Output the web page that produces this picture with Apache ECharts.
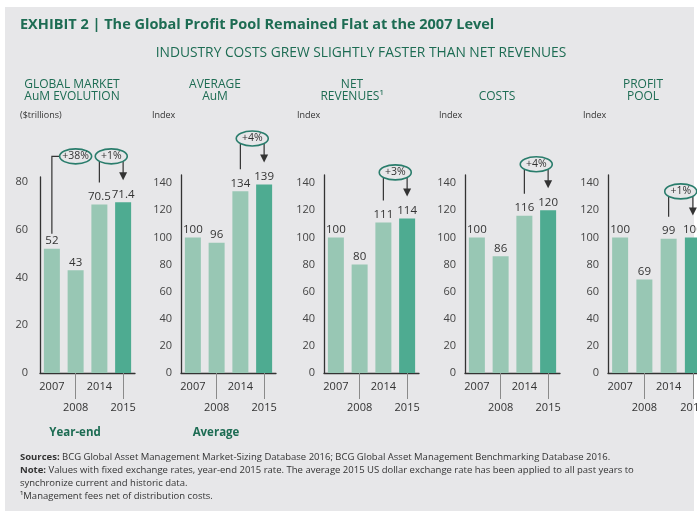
<!DOCTYPE html>
<html>
<head>
<meta charset="utf-8">
<script src="https://cdn.jsdelivr.net/npm/echarts@6/dist/echarts.min.js"></script>
<style>
html,body{margin:0;padding:0;background:#fff;}
#c{width:697px;height:517px;}
</style>
</head>
<body>
<div id="c"></div>
<script>
// ---- data ----
const years = ['2007', '2008', '2014', '2015'];
const aumEvolution = [52, 43, 70.5, 71.4];
const averageAum = [100, 96, 134, 139];
const netRevenues = [100, 80, 111, 114];
const costs = [100, 86, 116, 120];
const profitPool = [100, 69, 99, 100];
const aumTicks = [0, 20, 40, 60, 80];
const indexTicks = [0, 20, 40, 60, 80, 100, 120, 140];
const panelTitles = ['GLOBAL MARKET\nAuM EVOLUTION', 'AVERAGE\nAuM', 'NET\nREVENUES\u00b9', 'COSTS', 'PROFIT\nPOOL'];
const panelUnits = ['($trillions)', 'Index', 'Index', 'Index', 'Index'];
const changes = [
  { panel: 0, from: 0, to: 2, text: '+38%' },
  { panel: 0, from: 2, to: 3, text: '+1%' },
  { panel: 1, from: 2, to: 3, text: '+4%' },
  { panel: 2, from: 2, to: 3, text: '+3%' },
  { panel: 3, from: 2, to: 3, text: '+4%' },
  { panel: 4, from: 2, to: 3, text: '+1%' }
];

const panels = [aumEvolution, averageAum, netRevenues, costs, profitPool];
const GREEN = '#1d6c53';
const LIGHT = '#98c7b4';
const DARK = '#4eab91';
const INK = '#333333';
const BG = '#e7e7e9';
const FONT = '"Open Sans", "Noto Sans", sans-serif';

const gridLeft = [40, 181, 324, 465, 608];
const gridWidth = [95, 95, 95, 95, 97];
const gridTop = [177, 175, 175, 175, 175];
const titleCenters = [72, 215, 352, 497, 643];
const unitX = [20, 152, 297, 439, 583];

const chart = echarts.init(document.getElementById('c'), null, { renderer: 'canvas' });

const grids = [], xAxes = [], yAxes = [], series = [];
panels.forEach((vals, i) => {
  grids.push({ left: gridLeft[i], top: gridTop[i], width: gridWidth[i], bottom: 144, containLabel: false, outerBoundsMode: 'none' });
  xAxes.push({
    type: 'category', gridIndex: i, data: years,
    axisLine: { lineStyle: { color: INK, width: 1.3 } },
    axisTick: { show: true, alignWithLabel: true, length: 26, interval: (idx) => idx % 2 === 1, lineStyle: { color: '#8a8a8a', width: 1 } },
    axisLabel: {
      interval: 0, margin: 3, color: INK, fontSize: 11, fontFamily: FONT, lineHeight: 21,
      hideOverlap: false,
      formatter: (v, idx) => (idx % 2 === 1 ? '\n' : '') + v
    }
  });
  const ticks = i === 0 ? aumTicks : indexTicks;
  yAxes.push({
    type: 'value', gridIndex: i, min: 0, max: i === 0 ? 82 : 146, interval: 20,
    axisLine: { show: true, lineStyle: { color: INK, width: 1.3 } },
    axisTick: { show: false }, splitLine: { show: false },
    axisLabel: {
      color: '#444', fontSize: 11, fontFamily: FONT, margin: i === 0 ? 12 : 9,
      showMaxLabel: false,
      formatter: (v) => (ticks.indexOf(v) >= 0 ? String(v) : '')
    }
  });
  series.push({
    type: 'bar', xAxisIndex: i, yAxisIndex: i, barWidth: 16,
    data: vals.map((v, k) => ({ value: v, itemStyle: { color: k === vals.length - 1 ? DARK : LIGHT } })),
    label: { show: true, position: 'top', distance: 2, color: INK, fontSize: 11.5, fontFamily: FONT },
    silent: true, animation: false
  });
});

const graphics = [
  { type: 'rect', shape: { x: 5, y: 7, width: 689, height: 504 }, style: { fill: BG }, z: -10, silent: true },
  { type: 'text', x: 20, y: 25, style: { text: 'EXHIBIT 2 | The Global Profit Pool Remained Flat at the 2007 Level', fill: GREEN, font: 'bold 14.5px ' + FONT, verticalAlign: 'middle' } },
  { type: 'text', x: 361, y: 53, style: { text: 'INDUSTRY COSTS GREW SLIGHTLY FASTER THAN NET REVENUES', fill: GREEN, font: '13.8px ' + FONT, align: 'center', verticalAlign: 'middle' } },
  { type: 'text', x: 75, y: 433, style: { text: 'Year-end', fill: GREEN, font: 'bold 11.5px ' + FONT, align: 'center', verticalAlign: 'middle' } },
  { type: 'text', x: 216, y: 433, style: { text: 'Average', fill: GREEN, font: 'bold 11.5px ' + FONT, align: 'center', verticalAlign: 'middle' } },
  {
    type: 'text', x: 20, y: 451,
    style: {
      text: '{b|Sources:} BCG Global Asset Management Market-Sizing Database 2016; BCG Global Asset Management Benchmarking Database 2016.\n' +
        '{b|Note:} Values with fixed exchange rates, year-end 2015 rate. The average 2015 US dollar exchange rate has been applied to all past years to\n' +
        'synchronize current and historic data.\n' +
        '\u00b9Management fees net of distribution costs.',
      fill: INK, font: '9.5px ' + FONT, lineHeight: 13,
      rich: { b: { font: 'bold 9.5px ' + FONT, fill: INK, lineHeight: 13 } }
    }
  }
];
panelTitles.forEach((t, i) => {
  graphics.push({ type: 'text', x: titleCenters[i], y: 103, style: { text: t, fill: GREEN, font: '12px ' + FONT, align: 'center', verticalAlign: 'bottom', lineHeight: 12 } });
  graphics.push({ type: 'text', x: unitX[i], y: 115, style: { text: panelUnits[i], fill: INK, font: '9px ' + FONT, verticalAlign: 'middle' } });
});

chart.setOption({
  animation: false,
  grid: grids, xAxis: xAxes, yAxis: yAxes, series: series,
  graphic: graphics
});

// ---- change annotations, positioned through the axes ----
const ANN = '#2a7d6c';
const LINE = '#333';
const ann = [];
changes.forEach((c) => {
  const vals = panels[c.panel];
  const finder = { xAxisIndex: c.panel, yAxisIndex: c.panel };
  const px = (k, v) => chart.convertToPixel(finder, [years[k], v]);
  const maxV = Math.max.apply(null, vals);
  const cy = px(0, maxV)[1] - 46;
  const fromP = px(c.from, vals[c.from]);
  const toP = px(c.to, vals[c.to]);
  const rx = 16, ry = 7.5;
  let cx;
  if (c.to - c.from === 1) {
    cx = (fromP[0] + toP[0]) / 2;
    const dy = (x) => ry * Math.sqrt(Math.max(0, 1 - Math.pow((x - cx) / rx, 2)));
    ann.push({ type: 'line', shape: { x1: fromP[0], y1: fromP[1] - 22, x2: fromP[0], y2: cy + dy(fromP[0]) }, style: { stroke: LINE, lineWidth: 1.2 } });
    const end = toP[1] - 22;
    ann.push({ type: 'line', shape: { x1: toP[0], y1: cy + dy(toP[0]), x2: toP[0], y2: end - 5 }, style: { stroke: LINE, lineWidth: 1.2 } });
    ann.push({ type: 'polygon', shape: { points: [[toP[0] - 4, end - 8], [toP[0] + 4, end - 8], [toP[0], end]] }, style: { fill: LINE } });
  } else {
    const mid = Math.round((c.from + c.to) / 2);
    cx = px(mid, 0)[0];
    ann.push({ type: 'polyline', shape: { points: [[fromP[0], fromP[1] - 15], [fromP[0], cy], [cx - rx, cy]] }, style: { stroke: LINE, lineWidth: 1.2, fill: null } });
  }
  ann.push({ type: 'ellipse', shape: { cx: cx, cy: cy, rx: rx, ry: ry }, style: { stroke: ANN, lineWidth: 1.6, fill: BG }, z: 5 });
  ann.push({ type: 'text', x: cx, y: cy, z: 6, style: { text: c.text, fill: INK, font: '10.5px ' + FONT, align: 'center', verticalAlign: 'middle' } });
});
chart.setOption({ graphic: graphics.concat(ann) });
</script>
</body>
</html>
